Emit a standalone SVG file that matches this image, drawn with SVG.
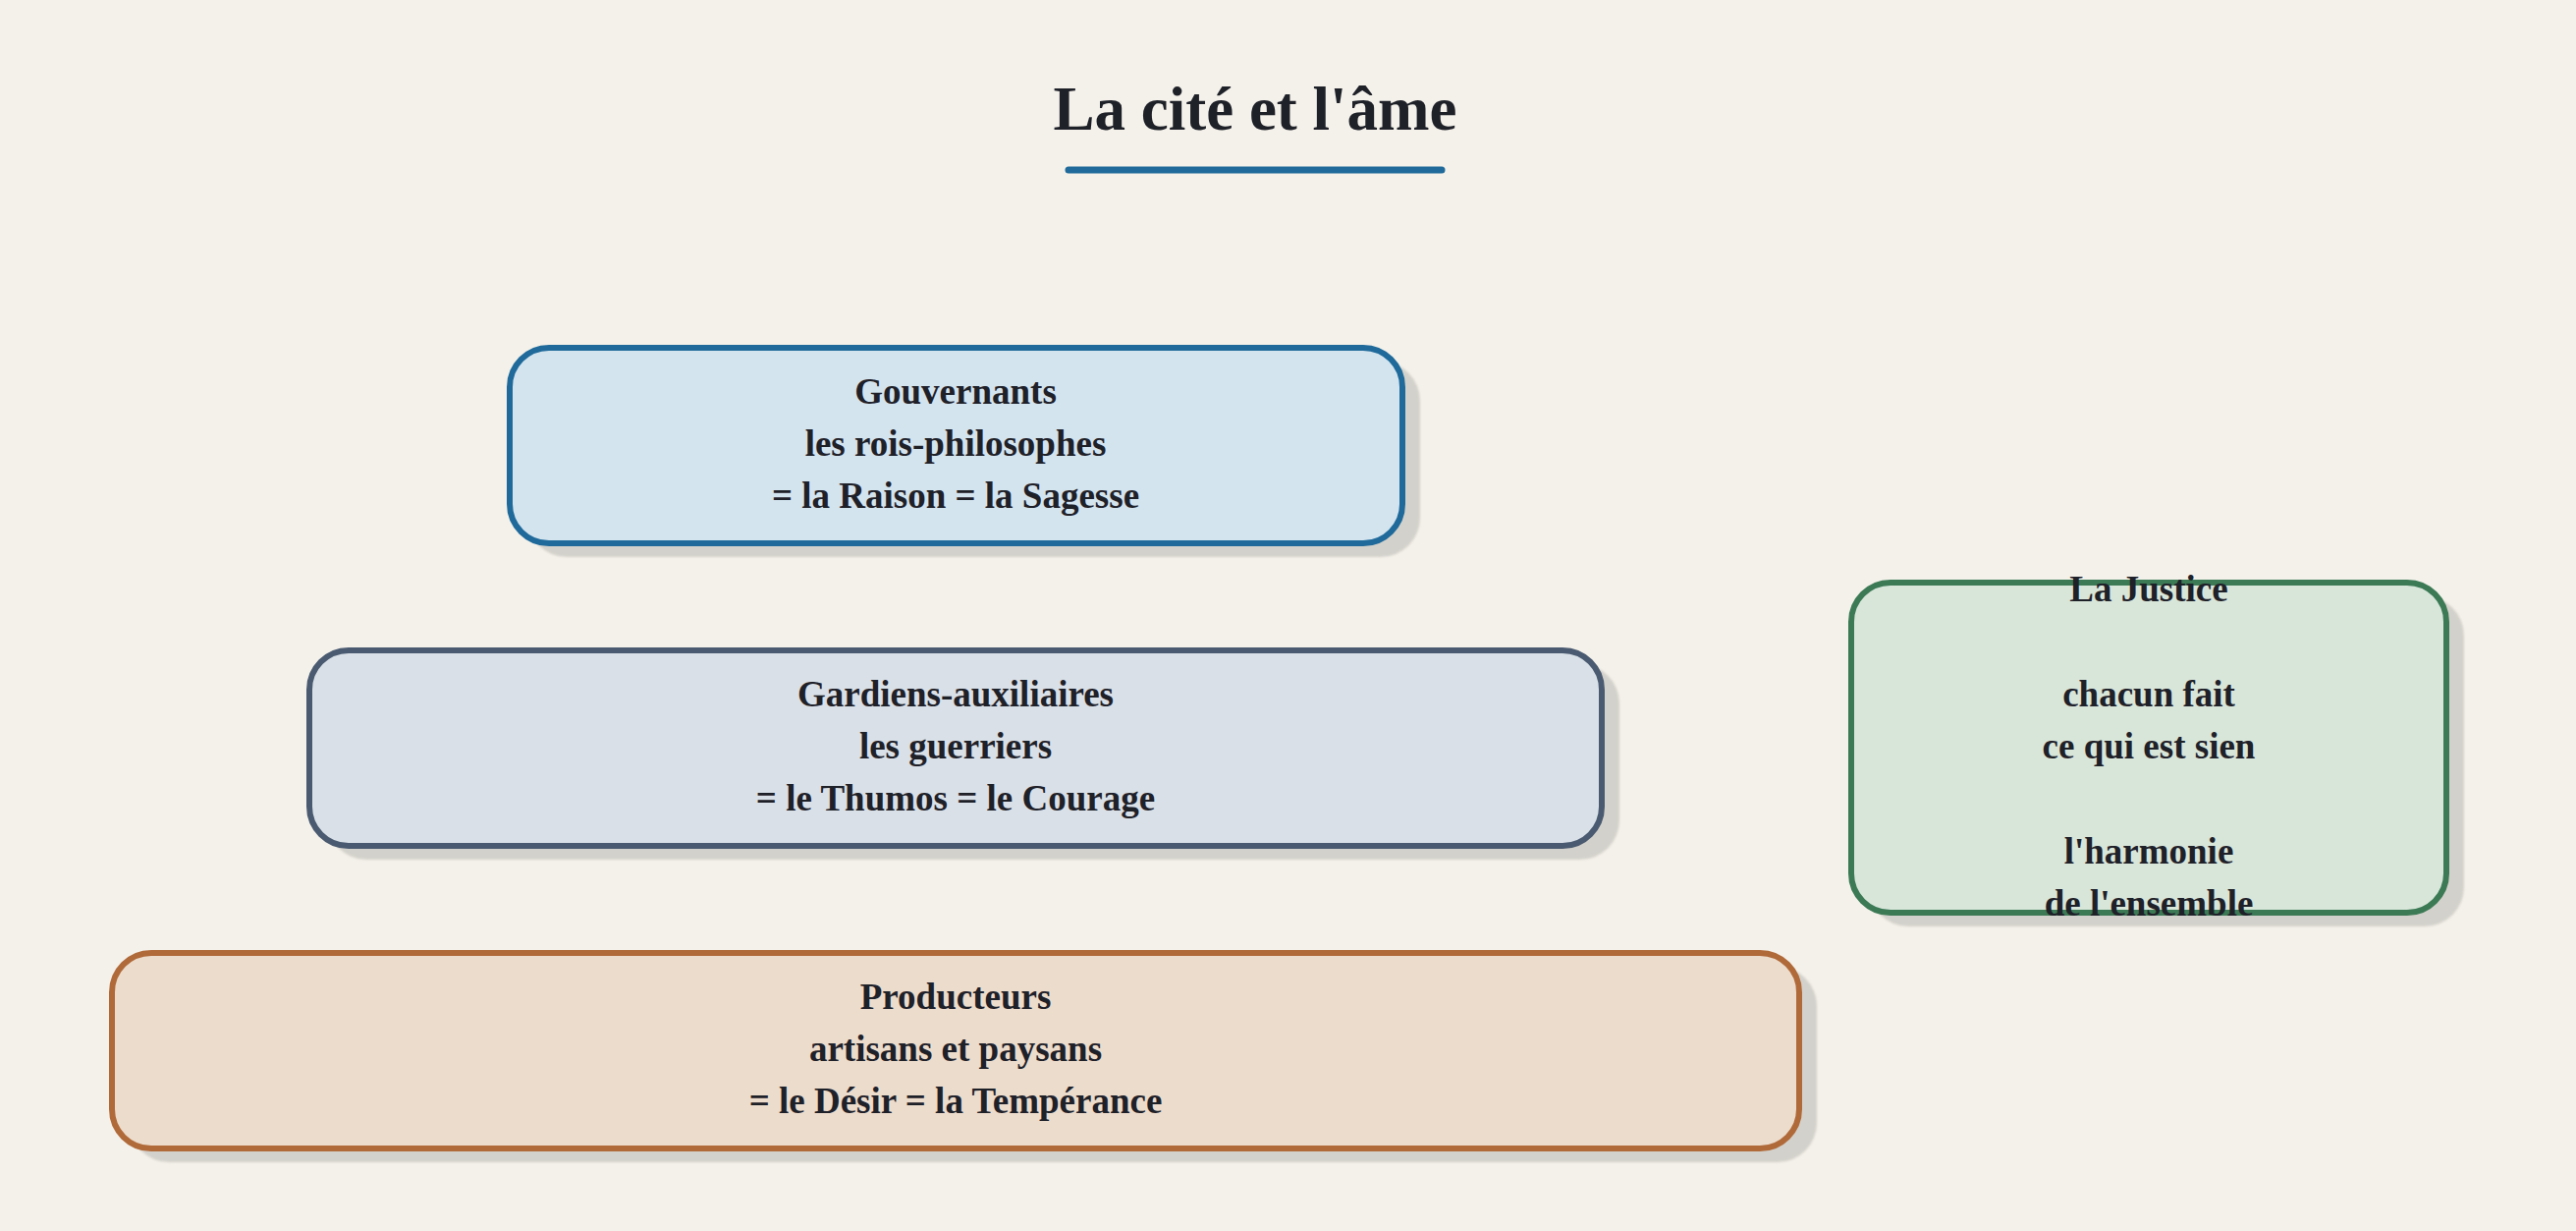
<svg xmlns="http://www.w3.org/2000/svg" width="2623" height="1253" viewBox="0 0 2623 1253">
<defs>
<filter id="soft" x="-5%" y="-10%" width="110%" height="120%"><feGaussianBlur stdDeviation="1"/></filter>
</defs>
<style>
.t{font-family:"Liberation Serif","DejaVu Serif",serif;font-weight:bold;fill:#1f2129;text-anchor:middle}
.lbl{font-size:37px}
.title{font-size:63px}
.sh{fill:#d3d1cb;filter:url(#soft)}
.box{stroke-width:6}
.blue{fill:#d3e4ef;stroke:#1f6a9a}
.gray{fill:#d9e0e7;stroke:#4a5a70}
.orange{fill:#ecdccc;stroke:#b06a3a}
.green{fill:#d8e6da;stroke:#3c7a55}
</style>
<rect x="0" y="0" width="2623" height="1253" fill="#f4f1ea"/>
<g id="title">
<text class="t title" x="1278" y="132">La cité et l'âme</text>
<line x1="1088" y1="173" x2="1468" y2="173" stroke="#1f6a9a" stroke-width="7" stroke-linecap="round"/>
</g>
<g id="connectors"></g>
<g id="gouvernants">
<rect class="sh" x="537" y="368" width="909" height="199" rx="40"/>
<rect class="box blue" x="519" y="354" width="909" height="199" rx="40"/>
<text class="t lbl" x="973" y="411">Gouvernants</text>
<text class="t lbl" x="973" y="464">les rois-philosophes</text>
<text class="t lbl" x="973" y="517">= la Raison = la Sagesse</text>
</g>
<g id="gardiens">
<rect class="sh" x="333" y="676" width="1316" height="199" rx="40"/>
<rect class="box gray" x="315" y="662" width="1316" height="199" rx="40"/>
<text class="t lbl" x="973" y="719">Gardiens-auxiliaires</text>
<text class="t lbl" x="973" y="772">les guerriers</text>
<text class="t lbl" x="973" y="825">= le Thumos = le Courage</text>
</g>
<g id="producteurs">
<rect class="sh" x="132" y="984" width="1718" height="199" rx="40"/>
<rect class="box orange" x="114" y="970" width="1718" height="199" rx="40"/>
<text class="t lbl" x="973" y="1027">Producteurs</text>
<text class="t lbl" x="973" y="1080">artisans et paysans</text>
<text class="t lbl" x="973" y="1133">= le Désir = la Tempérance</text>
</g>
<g id="justice">
<rect class="sh" x="1903" y="607" width="606" height="336" rx="40"/>
<rect class="box green" x="1885" y="593" width="606" height="336" rx="40"/>
<text class="t lbl" x="2188" y="612">La Justice</text>
<text class="t lbl" x="2188" y="719">chacun fait</text>
<text class="t lbl" x="2188" y="772">ce qui est sien</text>
<text class="t lbl" x="2188" y="879">l'harmonie</text>
<text class="t lbl" x="2188" y="932">de l'ensemble</text>
</g>
</svg>
